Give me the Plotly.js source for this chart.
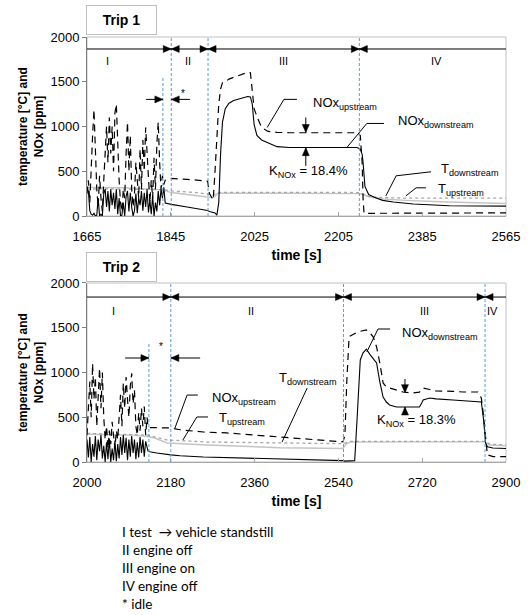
<!DOCTYPE html>
<html><head><meta charset="utf-8">
<script src="https://cdn.plot.ly/plotly-3.0.1.min.js"></script>
<style>html,body{margin:0;padding:0;background:#fff}#chart{width:528px;height:615px}</style>
</head><body><div id="chart"></div>
<script>
// ---------- Trip 1 data ----------
const trip1Time = [1665,1668,1671,1674,1677,1680,1683,1686,1689,1692,1695,1698,1701,1704,1707,1710,1713,1716,1719,1722,1725,1728,1731,1734,1737,1740,1743,1746,1749,1752,1755,1758,1761,1764,1767,1770,1773,1776,1779,1782,1785,1788,1791,1794,1797,1800,1803,1806,1809,1812,1815,1818,1821,1824,1827,1830,
  1833,1846,1880,1910,1924,1928,1936,1940,1944,1948,1952,1956,1962,1970,1980,1990,2000,2010,2016,2020,2024,2030,2040,2054,2073,2100,2150,2200,2245,2252,2256,2258,2260,2262,2270,2282,2300,2323,2366,2443,2565];
const trip1NOxUp = [250,400,150,600,900,1190,700,300,100,450,200,50,400,800,1000,600,1100,700,1000,500,1150,1250,800,400,150,50,300,200,700,1050,500,900,300,100,250,600,400,200,750,300,850,500,990,700,350,150,400,200,650,300,800,1050,600,300,450,350,
  400,420,410,400,390,250,180,500,900,1250,1420,1490,1500,1530,1550,1570,1590,1605,1600,1350,1200,1110,990,945,935,930,930,930,930,900,600,200,30,30,30,30,30,32,35,35,35];
const trip1NOxDown = [300,280,60,20,10,30,0,10,200,0,20,0,250,300,100,280,50,300,120,260,80,300,20,200,0,10,150,0,220,280,50,260,100,0,60,250,30,200,120,280,60,260,100,300,40,180,20,230,0,150,50,280,120,300,200,320,
  145,130,100,75,62,50,45,35,10,150,700,1050,1200,1260,1290,1305,1320,1335,1330,1250,1020,900,850,820,775,765,765,760,765,750,690,600,420,330,240,210,175,157,135,115,110];
const trip1TTime = [1665,1700,1750,1800,1828,1846,1870,1900,1925,1936,1945,1950,2100,2250,2258,2270,2300,2350,2440,2565];
const trip1TUp   = [300,305,300,300,295,280,272,262,245,235,262,265,265,262,245,220,205,200,200,200];
const trip1TDown = [320,320,315,300,290,262,245,225,210,205,250,255,255,250,240,215,190,175,157,140];
const trip1Bounds = [1665,1846,1925,2250,2565];
const trip1Dividers = [1828,1846,1925,2250];
const trip1DividerTops = [1550,2000,2000,2000];

// ---------- Trip 2 data ----------
const trip2Time = [2000,2003,2006,2009,2012,2015,2018,2021,2024,2027,2030,2033,2036,2039,2042,2045,2048,2051,2054,2057,2060,2063,2066,2069,2072,2075,2078,2081,2084,2087,2090,2093,2096,2099,2102,2105,2108,2111,2114,2117,2120,2123,2126,2129,2131,
  2135,2150,2180,2200,2250,2300,2350,2415,2486,2550,2554,2558,2563,2575,2580,2587,2593,2600,2608,2615,2622,2629,2636,2643,2650,2665,2679,2700,2714,2719,2722,2736,2750,2786,2808,2840,2847,2852,2856,2860,2872,2900];
const trip2NOxUp = [300,600,900,500,1100,700,950,400,800,1050,600,1000,500,250,400,150,350,200,450,300,150,350,250,500,750,400,880,600,950,700,500,850,990,650,800,400,300,550,350,600,400,620,300,500,390,
  385,385,380,360,335,325,305,279,257,225,300,900,1400,1440,1450,1460,1470,1475,1440,1396,1285,1106,883,840,827,800,782,771,780,810,827,810,793,790,782,782,715,500,250,80,60,60];
const trip2NOxDown = [250,50,280,0,200,60,290,20,250,120,300,40,180,0,220,30,260,0,150,20,240,10,200,40,280,80,300,100,270,20,250,60,290,100,250,30,220,50,280,100,250,60,230,150,125,
  115,100,80,70,56,50,45,35,25,15,10,10,10,15,470,1140,1220,1262,1200,1150,1106,894,726,670,637,614,614,614,614,660,693,715,705,693,685,672,670,469,212,170,156,150];
const trip2TTime = [2000,2050,2100,2131,2145,2172,2259,2415,2550,2556,2565,2700,2855,2865,2900];
const trip2TUp   = [320,310,305,300,280,246,223,212,205,215,230,230,230,200,190];
const trip2TDown = [310,305,300,285,268,212,190,160,150,200,222,225,225,190,180];
const trip2Bounds = [2000,2180,2551,2855,2900];
const trip2Dividers = [2133,2180,2551,2855];
const trip2DividerTops = [1329,2000,2000,2000];

const phaseNames = ['I','II','III','IV'];
const xTicks1 = [1665,1845,2025,2205,2385,2565];
const xTicks2 = [2000,2180,2360,2540,2720,2900];
const yTicks = [0,500,1000,1500,2000];
const legendLines = ['I test &#160;\u2192 vehicle standstill','II engine off','III engine on','IV engine off','* idle'];

// ---------- layout helpers ----------
const FONT = "'Liberation Sans', Arial, sans-serif";
const BLUE = '#5b9bd5';

function traces(t, up, down, tt, tu, td, xa, ya) {
  return [
    {x: tt, y: td, xaxis: xa, yaxis: ya, mode: 'lines', name: 'T downstream', line: {color: '#c4c4c4', width: 1.4}},
    {x: tt, y: tu, xaxis: xa, yaxis: ya, mode: 'lines', name: 'T upstream', line: {color: '#a6a6a6', width: 1.3, dash: '3px,3px'}},
    {x: t, y: up, xaxis: xa, yaxis: ya, mode: 'lines', name: 'NOx upstream', line: {color: '#000', width: 1.2, dash: '7px,5px'}},
    {x: t, y: down, xaxis: xa, yaxis: ya, mode: 'lines', name: 'NOx downstream', line: {color: '#000', width: 1.1}}
  ];
}

const ann = [];
const shapes = [];

function seg(xr, yr, x0, y0, x1, y1) {
  shapes.push({type: 'line', xref: xr, yref: yr, x0: x0, y0: y0, x1: x1, y1: y1, line: {color: '#000', width: 1}});
}
const HEADS = {r: 'M0,0L-8,3.5L-8,-3.5Z', l: 'M0,0L8,3.5L8,-3.5Z', d: 'M0,0L-3.5,8L3.5,8Z', u: 'M0,0L-3.5,-8L3.5,-8Z'};
function head(xr, yr, x, y, dir) {
  shapes.push({type: 'path', xref: xr, yref: yr, xsizemode: 'pixel', ysizemode: 'pixel', xanchor: x, yanchor: y,
    path: HEADS[dir], fillcolor: '#000', line: {color: '#000', width: 0.5}});
}
function label(xr, yr, x, y, text, size, anchor) {
  return {xref: xr, yref: yr, x: x, y: y, text: text, showarrow: false, xanchor: anchor || 'left', yanchor: 'middle',
    font: {family: FONT, size: size || 13, color: '#000'}};
}
function leader(xr, yr, pts) {
  shapes.push({type: 'path', xref: xr, yref: yr, path: 'M' + pts.map(p => p[0] + ',' + p[1]).join('L'), line: {color: '#000', width: 1}});
}
function phaseRow(xr, yr, bounds, rowY, labX, labY) {
  seg(xr, yr, bounds[0], rowY, bounds[bounds.length - 1], rowY);
  for (let i = 1; i < bounds.length - 1; i++) {
    head(xr, yr, bounds[i], rowY, 'r');
    head(xr, yr, bounds[i], rowY, 'l');
  }
  labX.forEach((x, i) => ann.push(label(xr, yr, x, labY, phaseNames[i], 11, 'center')));
}
function dividers(xr, yr, xs, tops) {
  xs.forEach((x, i) => shapes.push({type: 'line', xref: xr, yref: yr, x0: x, x1: x, y0: 0, y1: tops[i],
    line: {color: BLUE, width: 1, dash: '3px,2px'}}));
}

// Trip 1 annotations
dividers('x', 'y', trip1Dividers, trip1DividerTops);
phaseRow('x', 'y', trip1Bounds, 1866, [1710, 1882, 2088, 2415], 1730);
seg('x', 'y', 1792, 1303, 1828, 1303); head('x', 'y', 1828, 1303, 'r');
seg('x', 'y', 1886, 1303, 1846, 1303); head('x', 'y', 1846, 1303, 'l');
ann.push(label('x', 'y', 1871, 1370, '*', 10, 'center'));
ann.push(label('x', 'y', 2146, 1258, 'NOx<sub>upstream</sub>'));
leader('x', 'y', [[2116, 1303], [2088, 1303], [2052, 989]]);
ann.push(label('x', 'y', 2329, 1056, 'NOx<sub>downstream</sub>'));
leader('x', 'y', [[2303, 1034], [2266, 1034], [2223, 764]]);
seg('x', 'y', 2135, 1101, 2135, 933); head('x', 'y', 2135, 933, 'd');
seg('x', 'y', 2135, 560, 2135, 764); head('x', 'y', 2135, 764, 'u');
ann.push(label('x', 'y', 2052, 494, 'K<sub>NOx</sub> = 18.4%'));
ann.push(label('x', 'y', 2421, 517, 'T<sub>downstream</sub>'));
leader('x', 'y', [[2404, 494], [2329, 449], [2307, 225]]);
ann.push(label('x', 'y', 2415, 292, 'T<sub>upstream</sub>'));
leader('x', 'y', [[2393, 315], [2372, 315], [2350, 225]]);

// Trip 2 annotations
dividers('x2', 'y2', trip2Dividers, trip2DividerTops);
phaseRow('x2', 'y2', trip2Bounds, 1843, [2056, 2353, 2724, 2872], 1687);
seg('x2', 'y2', 2082, 1162, 2133, 1162); head('x2', 'y2', 2133, 1162, 'r');
seg('x2', 'y2', 2243, 1162, 2180, 1162); head('x2', 'y2', 2180, 1162, 'l');
ann.push(label('x2', 'y2', 2159, 1295, '*', 10, 'center'));
ann.push(label('x2', 'y2', 2264, 715, 'NOx<sub>upstream</sub>'));
leader('x2', 'y2', [[2238, 748], [2215, 748], [2189, 380]]);
ann.push(label('x2', 'y2', 2279, 491, 'T<sub>upstream</sub>'));
leader('x2', 'y2', [[2260, 503], [2236, 503], [2206, 246]]);
ann.push(label('x2', 'y2', 2475, 938, 'T<sub>downstream</sub>', 13, 'center'));
leader('x2', 'y2', [[2473, 827], [2419, 223]]);
ann.push(label('x2', 'y2', 2672, 1441, 'NOx<sub>downstream</sub>'));
leader('x2', 'y2', [[2651, 1486], [2625, 1486], [2601, 1229]]);
seg('x2', 'y2', 2683, 927, 2683, 775); head('x2', 'y2', 2683, 775, 'd');
seg('x2', 'y2', 2683, 530, 2683, 614); head('x2', 'y2', 2683, 614, 'u');
ann.push(label('x2', 'y2', 2619, 469, 'K<sub>NOx</sub> = 18.3%'));

// Trip boxes
[['<b>Trip 1</b>', 1.0753], ['<b>Trip 2</b>', 0.4941]].forEach(([t, y]) => ann.push({
  xref: 'paper', yref: 'paper', x: -0.002, y: y, xanchor: 'left', yanchor: 'top', text: t, showarrow: false,
  width: 67, height: 26, borderpad: 1, bordercolor: '#bfbfbf', borderwidth: 1, bgcolor: '#fff',
  font: {family: FONT, size: 14, color: '#000'}}));

// Bottom notes
const noteY = [532, 550, 568, 586, 604];
legendLines.forEach((t, i) => ann.push({xref: 'paper', yref: 'paper', x: (120 - 87) / 419, y: (462 - noteY[i]) / 425,
  xanchor: 'left', yanchor: 'middle', text: t, showarrow: false, font: {family: "Lato, Carlito, sans-serif", size: 13.5, color: '#000'}}));

// frames
['x', 'x2'].forEach((xa, i) => shapes.push({type: 'rect', xref: xa + ' domain', yref: (i ? 'y2' : 'y') + ' domain',
  x0: 0, x1: 1, y0: 0, y1: 1, line: {color: '#c0c0c0', width: 1}, layer: 'below'}));

function xAxis(range, ticks, anchor) {
  return {range: range, tickvals: ticks, ticktext: ticks.map(String), anchor: anchor, domain: [0, 1],
    showgrid: false, zeroline: false, showline: true, linecolor: '#a6a6a6', linewidth: 1,
    ticks: 'inside', ticklen: 4, tickcolor: '#a6a6a6', ticklabelstandoff: 8,
    tickfont: {family: FONT, size: 13, color: '#000'},
    title: {text: 'time [s]', standoff: 7, font: {family: FONT, size: 14, color: '#000', weight: 'bold'}}};
}
function yAxis(domain, anchor) {
  return {range: [0, 2000], tickvals: yTicks, ticktext: yTicks.map(String), anchor: anchor, domain: domain,
    showgrid: false, zeroline: false, showline: true, linecolor: '#7f7f7f', linewidth: 1,
    ticks: 'outside', ticklen: 4, tickcolor: '#7f7f7f',
    tickfont: {family: FONT, size: 13, color: '#000'},
    title: {text: 'temperature [°C] and<br>NOx [ppm]', standoff: 4, font: {family: FONT, size: 12, color: '#000', weight: 'bold'}}};
}

const data = [].concat(
  traces(trip1Time, trip1NOxUp, trip1NOxDown, trip1TTime, trip1TUp, trip1TDown, 'x', 'y'),
  traces(trip2Time, trip2NOxUp, trip2NOxDown, trip2TTime, trip2TUp, trip2TDown, 'x2', 'y2'));

const layout = {
  width: 528, height: 615, margin: {l: 87, r: 22, t: 37, b: 153},
  paper_bgcolor: '#fff', plot_bgcolor: '#fff', showlegend: false,
  xaxis: xAxis([1665, 2565], xTicks1, 'y'),
  yaxis: yAxis([0.5788, 1], 'x'),
  xaxis2: xAxis([2000, 2900], xTicks2, 'y2'),
  yaxis2: yAxis([0, 0.4212], 'x2'),
  annotations: ann, shapes: shapes,
  font: {family: FONT, color: '#000'}
};
Plotly.newPlot('chart', data, layout, {staticPlot: true});
</script></body></html>
